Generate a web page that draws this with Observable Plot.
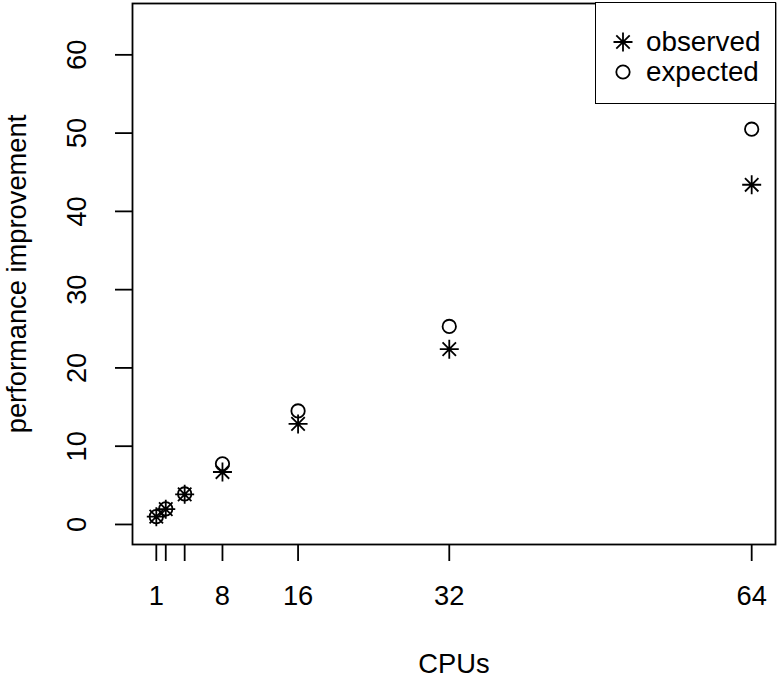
<!DOCTYPE html>
<html>
<head>
<meta charset="utf-8">
<script src="https://cdn.jsdelivr.net/npm/d3@7"></script>
<script src="https://cdn.jsdelivr.net/npm/@observablehq/plot@0.6"></script>
<style>
  html, body { margin: 0; padding: 0; background: #fff; }
  #wrap { position: relative; width: 780px; height: 677px; font-family: "Liberation Sans", Arial, Helvetica, sans-serif; }
  #legend { position: absolute; left: 595px; top: 2px; width: 181px; height: 102px; box-sizing: border-box;
            border: 1.8px solid #000; background: #fff; }
  .entry { position: absolute; left: 0; display: flex; align-items: center; font-size: 27.8px; color: #000; line-height: 30px; }
  .entry svg { display: block; }
</style>
</head>
<body>
<div id="wrap"></div>
<script>
// ---- data ----
const cpus = [1, 2, 4, 8, 16, 32, 64];
const observed = [1, 1.95, 3.85, 6.7, 12.85, 22.4, 43.4];
const expected = [1, 2, 3.9, 7.75, 14.5, 25.3, 50.5];
const xTicks = [1, 2, 4, 8, 16, 32, 64];
const xTickLabels = ["1", "", "", "8", "16", "32", "64"];
const yTicks = [0, 10, 20, 30, 40, 50, 60];
const seriesNames = ["observed", "expected"];

const rows = cpus.map((c, i) => ({cpus: c, observed: observed[i], expected: expected[i]}));
const xLabelMap = new Map(xTicks.map((t, i) => [t, xTickLabels[i]]));

// R-style pch 8 asterisk (plus + times)
const asterisk8 = {
  draw(ctx, size) {
    const r = Math.sqrt(size / Math.PI);
    const d = r * Math.SQRT1_2;
    ctx.moveTo(-r, 0); ctx.lineTo(r, 0);
    ctx.moveTo(0, -r); ctx.lineTo(0, r);
    ctx.moveTo(-d, -d); ctx.lineTo(d, d);
    ctx.moveTo(-d, d); ctx.lineTo(d, -d);
  }
};

const FONT = "27.3px";
const plot = Plot.plot({
  width: 780,
  height: 677,
  marginLeft: 132,
  marginRight: 5,
  marginTop: 3,
  marginBottom: 133,
  style: {fontFamily: '"Liberation Sans", Arial, Helvetica, sans-serif', fontSize: FONT, color: "#000", background: "#fff"},
  x: {domain: [-1.52, 66.52]},
  y: {domain: [-2.56, 66.56]},
  marks: [
    Plot.frame({stroke: "#000", strokeWidth: 1.8}),
    Plot.axisX(xTicks, {
      tickSize: 17, tickPadding: 24, strokeWidth: 1.8,
      tickFormat: d => xLabelMap.get(d),
      fontSize: FONT,
      label: "CPUs", labelAnchor: "center", labelArrow: "none", labelOffset: 128
    }),
    // y ticks (no text)
    Plot.axisY(yTicks, {tickSize: 17, strokeWidth: 1.8, text: null, label: null}),
    // y tick labels, rotated like R's las=0
    Plot.axisY(yTicks, {
      tickSize: 0, tickPadding: 47,
      rotate: -90, textAnchor: "middle", lineAnchor: "bottom",
      fontSize: FONT,
      label: "performance improvement", labelAnchor: "center", labelArrow: "none", labelOffset: 126
    }),
    Plot.dot(rows, {x: "cpus", y: "expected", symbol: "circle", r: 6.7, fill: "none", stroke: "#000", strokeWidth: 1.8}),
    Plot.dot(rows, {x: "cpus", y: "observed", symbol: asterisk8, r: 9.5, fill: "none", stroke: "#000", strokeWidth: 1.8})
  ]
});

const wrap = document.getElementById("wrap");
wrap.appendChild(plot);

// legend (HTML overlay, top-right, like R's legend("topright"))
const legend = document.createElement("div");
legend.id = "legend";
const symSvg = (name) => {
  const s = d3.create("svg").attr("width", 24).attr("height", 24).attr("viewBox", "-12 -12 24 24");
  if (name === "observed") {
    s.append("path").attr("d", d3.symbol(asterisk8, Math.PI * 9.5 * 9.5)()).attr("fill", "none").attr("stroke", "#000").attr("stroke-width", 1.8);
  } else {
    s.append("circle").attr("r", 6.7).attr("fill", "none").attr("stroke", "#000").attr("stroke-width", 1.8);
  }
  return s.node();
};
seriesNames.forEach((name, i) => {
  const e = document.createElement("div");
  e.className = "entry";
  e.style.top = (24 + i * 30) + "px";
  const sym = document.createElement("div");
  sym.style.width = "24px"; sym.style.marginLeft = "15px"; sym.style.marginRight = "11px";
  sym.appendChild(symSvg(name));
  const t = document.createElement("span");
  t.textContent = name;
  e.appendChild(sym); e.appendChild(t);
  legend.appendChild(e);
});
wrap.appendChild(legend);
</script>
</body>
</html>
